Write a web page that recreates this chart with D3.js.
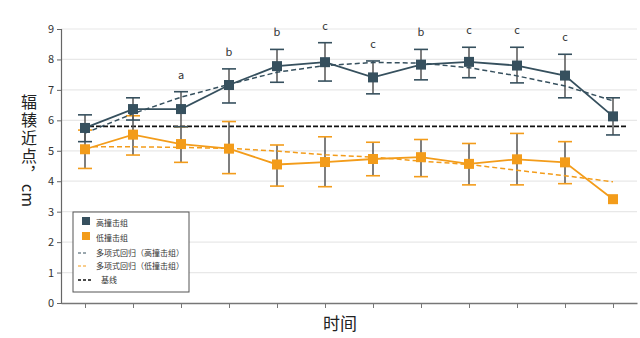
<!DOCTYPE html>
<html>
<head>
<meta charset="utf-8">
<script src="https://cdnjs.cloudflare.com/ajax/libs/d3/7.8.5/d3.min.js"></script>
<style>
  html, body { margin: 0; padding: 0; background: #fff; }
  #chart { width: 640px; height: 338px; }
  text { font-family: "Noto Sans CJK SC", "Noto Sans", sans-serif; }
</style>
</head>
<body>
<div id="chart"></div>
<script>
//Colores
const COLOR_HIGH = '#36505e',
COLOR_LOW = '#f39c1a',
COLOR_STEM = '#555',
COLOR_GRID = '#e8e8e8';

//Datos
const timePoints = ['1','2','3','4','5','6','7','8','9','10','11','12'];
const yTicks = [0,1,2,3,4,5,6,7,8,9];

const highMean = [5.75, 6.37, 6.37, 7.16, 7.78, 7.91, 7.41, 7.83, 7.92, 7.80, 7.47, 6.13];
const highUpper = [6.18, 6.74, 6.94, 7.69, 8.33, 8.55, 7.95, 8.33, 8.40, 8.40, 8.17, 6.74];
const highLower = [5.30, 6.01, 5.79, 6.57, 7.25, 7.29, 6.87, 7.33, 7.40, 7.23, 6.74, 5.52];
const highFit = [5.58, 6.22, 6.76, 7.18, 7.58, 7.80, 7.90, 7.88, 7.73, 7.46, 7.13, 6.64];
const highLetters = ['', '', 'a', 'b', 'b', 'c', 'c', 'b', 'c', 'c', 'c', ''];

const lowMean = [5.05, 5.53, 5.22, 5.07, 4.55, 4.63, 4.73, 4.79, 4.57, 4.72, 4.62, 3.41];
const lowUpper = [5.68, 6.15, 5.79, 5.96, 5.19, 5.46, 5.28, 5.37, 5.24, 5.57, 5.30, null];
const lowLower = [4.42, 4.86, 4.62, 4.25, 3.84, 3.82, 4.18, 4.15, 3.88, 3.88, 3.92, null];
const lowFit = [5.13, 5.13, 5.11, 5.08, 4.99, 4.87, 4.79, 4.66, 4.55, 4.36, 4.18, 3.98];

const baselineValue = 5.8;

const legendItems = [
    {label: '高撞击组', type: 'square', color: COLOR_HIGH},
    {label: '低撞击组', type: 'square', color: COLOR_LOW},
    {label: '多项式回归（高撞击组）', type: 'dash', color: COLOR_HIGH},
    {label: '多项式回归（低撞击组）', type: 'dash', color: COLOR_LOW},
    {label: '基线', type: 'base', color: '#111'}
];

//Dimensiones
let margin = {top: 29, right: 3, bottom: 35, left: 61},
    width = 640 - margin.left - margin.right,
    height = 338 - margin.top - margin.bottom;

let svg = d3.select('#chart')
    .append('svg')
        .attr('width', 640)
        .attr('height', 338)
    .append('g')
        .attr('transform', 'translate(' + margin.left + ',' + margin.top + ')');

let x = d3.scalePoint()
    .domain(timePoints)
    .range([0, width])
    .padding(0.5);

let y = d3.scaleLinear()
    .domain([0, 9])
    .range([height, 0]);

//Rejilla
svg.append('g')
    .selectAll('line')
    .data(yTicks.slice(1))
    .enter()
    .append('line')
    .attr('x1', 0)
    .attr('x2', width)
    .attr('y1', d => y(d))
    .attr('y2', d => y(d))
    .attr('stroke', COLOR_GRID)
    .attr('stroke-width', 1.2);

//Ejes
let yAxis = svg.append('g')
    .call(d3.axisLeft(y).tickValues(yTicks).tickSize(4).tickPadding(3));
yAxis.select('.domain').attr('stroke', '#666').attr('stroke-width', 1.2);
yAxis.selectAll('.tick line').attr('stroke', '#666');
yAxis.selectAll('.tick text').attr('fill', '#333').style('font-size', '11px');

let xAxis = svg.append('g')
    .attr('transform', 'translate(0,' + height + ')')
    .call(d3.axisBottom(x).tickSize(5).tickSizeOuter(0).tickFormat(''));
xAxis.select('.domain').attr('stroke', '#777').attr('stroke-width', 1.5);
xAxis.selectAll('.tick line').attr('stroke', '#777');

//Línea base
svg.append('line')
    .attr('x1', x(timePoints[0]) - 3)
    .attr('x2', x(timePoints[timePoints.length - 1]) + 13)
    .attr('y1', y(baselineValue))
    .attr('y2', y(baselineValue))
    .attr('stroke', '#111')
    .attr('stroke-width', 1.6)
    .attr('stroke-dasharray', '5,2');

let line = d3.line()
    .defined(d => d[1] != null)
    .x(d => x(d[0]))
    .y(d => y(d[1]));

function zip(values) {
    return timePoints.map((t, i) => [t, values[i]]);
}

//Barras de error
function drawErrors(upper, lower, color) {
    let g = svg.append('g');
    timePoints.forEach((t, i) => {
        if (upper[i] == null) return;
        g.append('line')
            .attr('x1', x(t)).attr('x2', x(t))
            .attr('y1', y(upper[i])).attr('y2', y(lower[i]))
            .attr('stroke', COLOR_STEM)
            .attr('stroke-width', 1.5);
        [upper[i], lower[i]].forEach(v => {
            g.append('line')
                .attr('x1', x(t) - 7).attr('x2', x(t) + 7)
                .attr('y1', y(v)).attr('y2', y(v))
                .attr('stroke', color)
                .attr('stroke-width', 1.6);
        });
    });
}

drawErrors(lowUpper, lowLower, COLOR_LOW);
drawErrors(highUpper, highLower, COLOR_HIGH);

//Líneas de tendencia
svg.append('path')
    .datum(zip(lowFit))
    .attr('d', line)
    .attr('fill', 'none')
    .attr('stroke', COLOR_LOW)
    .attr('stroke-width', 1.5)
    .attr('stroke-dasharray', '5,3');

svg.append('path')
    .datum(zip(highFit))
    .attr('d', line)
    .attr('fill', 'none')
    .attr('stroke', COLOR_HIGH)
    .attr('stroke-width', 1.5)
    .attr('stroke-dasharray', '5,3');

//Series
function drawSeries(values, color) {
    svg.append('path')
        .datum(zip(values))
        .attr('d', line)
        .attr('fill', 'none')
        .attr('stroke', color)
        .attr('stroke-width', 1.8);

    svg.append('g')
        .selectAll('rect')
        .data(zip(values))
        .enter()
        .append('rect')
        .attr('x', d => x(d[0]) - 5)
        .attr('y', d => y(d[1]) - 5)
        .attr('width', 10)
        .attr('height', 10)
        .attr('fill', color);
}

drawSeries(lowMean, COLOR_LOW);
drawSeries(highMean, COLOR_HIGH);

//Letras de significación
svg.append('g')
    .selectAll('text')
    .data(zip(highUpper).map((d, i) => [d[0], d[1], highLetters[i]]))
    .enter()
    .append('text')
    .attr('x', d => x(d[0]))
    .attr('y', d => y(d[1]) - 13)
    .attr('text-anchor', 'middle')
    .attr('fill', '#333')
    .style('font-size', '11px')
    .text(d => d[2]);

//Leyenda
let legend = svg.append('g')
    .attr('transform', 'translate(' + (73 - margin.left) + ',' + (212 - margin.top) + ')');

legend.append('rect')
    .attr('width', 116)
    .attr('height', 80)
    .attr('fill', '#fff')
    .attr('stroke', '#555')
    .attr('stroke-width', 1);

let legendY = [11, 26, 41, 54, 68];

legendItems.forEach((item, i) => {
    let ly = legendY[i];
    if (item.type == 'square') {
        legend.append('rect')
            .attr('x', 9).attr('y', ly - 6)
            .attr('width', 8).attr('height', 8)
            .attr('fill', item.color);
    } else {
        legend.append('line')
            .attr('x1', 5).attr('x2', item.type == 'base' ? 19 : 14)
            .attr('y1', ly).attr('y2', ly)
            .attr('stroke', item.color)
            .attr('stroke-width', item.type == 'base' ? 1.5 : 1.2)
            .attr('stroke-dasharray', '3,2');
    }
    legend.append('text')
        .attr('x', item.type == 'base' ? 28 : 23)
        .attr('y', ly + 3)
        .attr('fill', '#333')
        .style('font-size', '8px')
        .text(item.label);
});

//Títulos de ejes
let yTitle = d3.select('#chart svg').append('text')
    .attr('x', 29)
    .attr('y', 94)
    .style('writing-mode', 'vertical-rl')
    .style('font-size', '16px')
    .attr('fill', '#222');

yTitle.append('tspan')
    .style('letter-spacing', '2px')
    .text('辐辏近点，');

yTitle.append('tspan')
    .text('cm');

d3.select('#chart svg').append('text')
    .attr('x', 340)
    .attr('y', 330)
    .attr('text-anchor', 'middle')
    .style('font-size', '17px')
    .attr('fill', '#222')
    .text('时间');
</script>
</body>
</html>
